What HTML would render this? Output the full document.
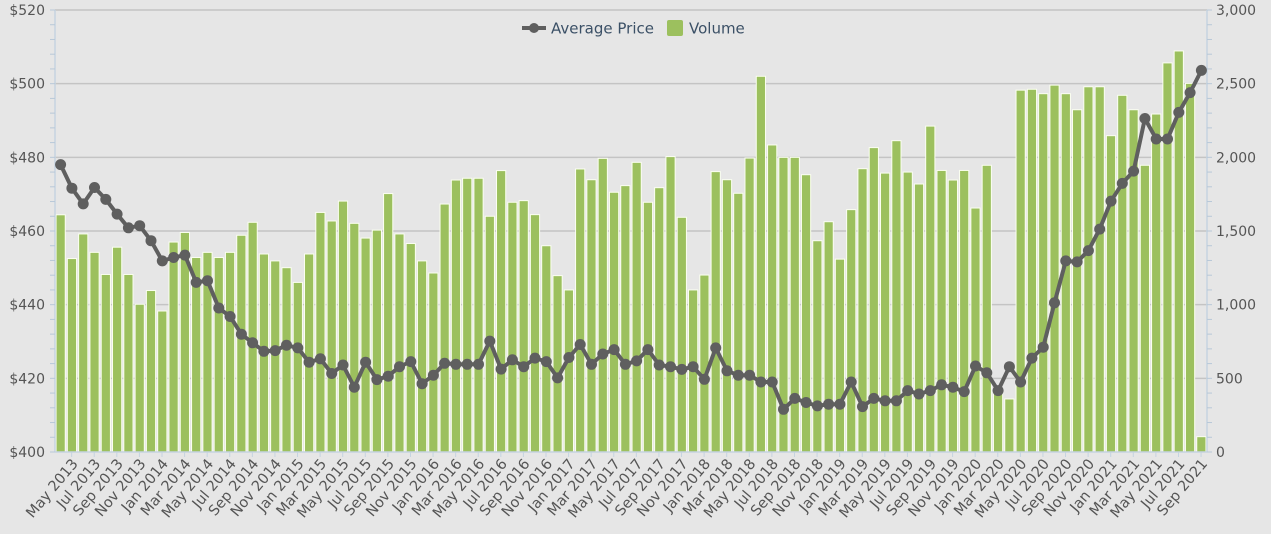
<!DOCTYPE html>
<html><head><meta charset="utf-8">
<style>
html,body{margin:0;padding:0;background:#e6e6e6;}
svg{display:block;font-family:"DejaVu Sans","Liberation Sans",sans-serif;}
</style></head>
<body>
<svg id="c" width="1271" height="534" viewBox="0 0 1271 534" xmlns="http://www.w3.org/2000/svg">
<rect width="1271" height="534" fill="#e6e6e6"/>
<g id="grid"></g>
<g id="bars"></g>
<g id="axes"></g>
<g id="line"></g>
<g id="labels"></g>
<g id="legend">
  <line x1="522" y1="28" x2="546" y2="28" stroke="#5f5f5f" stroke-width="4"/>
  <circle cx="534" cy="28" r="5" fill="#5f5f5f"/>
  <text x="551" y="33.5" font-size="15" fill="#3b5066">Average Price</text>
  <rect x="667" y="20" width="16" height="16" rx="2" fill="#9cc05e"/>
  <text x="689" y="33.5" font-size="15" fill="#3b5066">Volume</text>
</g>
</svg>
<script>
(function(){
var NS="http://www.w3.org/2000/svg";
function el(t,a,p,txt){var e=document.createElementNS(NS,t);for(var k in a)e.setAttribute(k,a[k]);if(txt!==undefined)e.textContent=txt;document.getElementById(p).appendChild(e);return e;}
var T0=10,B0=452,L=55,R=1207,H=B0-T0;
var vol=[1610,1313,1480,1355,1205,1390,1205,1003,1096,957,1425,1490,1320,1355,1320,1355,1471,1559,1344,1297,1251,1151,1344,1626,1568,1703,1552,1452,1506,1754,1480,1415,1297,
1215,1683,1846,1858,1858,1600,1910,1695,1706,1611,1400,1197,1100,1921,1848,1993,1763,
1808,1966,1695,1794,2005,1593,1100,1201,1903,1848,1756,1995,2550,2084,2000,2000,1882,1434,1563,
1309,1645,1923,2066,1893,2113,1900,1819,2212,1911,1846,1911,1656,1946,420,360,2456,2462,2432,2490,2432,2323,2479,2479,2147,2421,2323,1946,2294,2641,2722,2502,104];
var zy=[483,552,598,550,585,628,668,662,706,765,755,748,828,823,903,928,980,1005,1030,1028,1012,1020,1062,1052,1095,1070,1135,1062,1113,1103,1075,
1060,1125,1100,1065,1068,1068,1068,1000,1082,1055,1075,1050,1060,1108,1048,1010,1068,1038,1025,1068,1058,1025,1070,1075,1083,1075,1112,1020,1087,1100,1100,1120,1120,1200,1168,1180,1190,1185,
1185,1120,1192,1168,1175,1175,1145,1155,1145,1128,1135,1148,1073,1093,1145,1075,1120,1050,1018,888,765,768,735,672,590,538,502,348,408,408,330,272,207];
var n=vol.length, s=(R-L)/n;
var rl=["3,000","2,500","2,000","1,500","1,000","500","0"];
for(var k=0;k<=6;k++){var y=T0+k*H/6;
 if(k<6) el("line",{x1:L,y1:y,x2:R,y2:y,stroke:"#c4c4c4","stroke-width":1.5},"grid");
 el("text",{x:45,y:y+5,"font-size":14,fill:"#555","text-anchor":"end"},"labels","$"+(520-20*k));
 el("text",{x:1216,y:y+5,"font-size":14,fill:"#555"},"labels",rl[k]);
}
el("line",{x1:L,y1:T0,x2:L,y2:B0,stroke:"#c5d3e0","stroke-width":1.5},"axes");
el("line",{x1:R,y1:T0,x2:R,y2:B0,stroke:"#c5d3e0","stroke-width":1.5},"axes");
el("line",{x1:L,y1:B0,x2:R,y2:B0,stroke:"#c5d3e0","stroke-width":1.5},"axes");
for(var k=0;k<=30;k++){var y=T0+k*H/30;
 el("line",{x1:L-5,y1:y,x2:L,y2:y,stroke:"#b8c8d8","stroke-width":1},"axes");
 el("line",{x1:R,y1:y,x2:R+5,y2:y,stroke:"#b8c8d8","stroke-width":1},"axes");}
for(var i=0;i<n;i++){var cx=L+s*(i+0.5),h=vol[i]/3000*H;
 el("rect",{x:cx-4.6,y:B0-h,width:9.2,height:h,fill:"#9cc05e",stroke:"#fbfff0","stroke-width":1},"bars");}
var mo=["Jan","Feb","Mar","Apr","May","Jun","Jul","Aug","Sep","Oct","Nov","Dec"];
for(var i=0;i<n;i+=2){var m=(4+i)%12,yr=2013+Math.floor((4+i)/12),cx=L+s*(i+0.5);
 el("line",{x1:cx+11,y1:B0,x2:cx+11,y2:B0+5,stroke:"#c5d3e0","stroke-width":1},"axes");
 var ax=cx+18,ay=464;
 el("text",{x:ax,y:ay,"font-size":14.5,fill:"#555","text-anchor":"end",transform:"rotate(-50 "+ax+" "+ay+")"},"labels",mo[m]+" "+yr);}
var pts=[];
for(var i=0;i<n;i++){var cx=L+s*(i+0.5),y=T0+(zy[i]-30)/1295*H;pts.push([cx,y]);}
el("polyline",{points:pts.map(function(p){return p[0].toFixed(1)+","+p[1].toFixed(1);}).join(" "),fill:"none",stroke:"#5f5f5f","stroke-width":4,"stroke-linejoin":"round"},"line");
for(var i=0;i<n;i++){el("circle",{cx:pts[i][0].toFixed(1),cy:pts[i][1].toFixed(1),r:5.5,fill:"#5f5f5f"},"line");}
})();
</script>
</body></html>
